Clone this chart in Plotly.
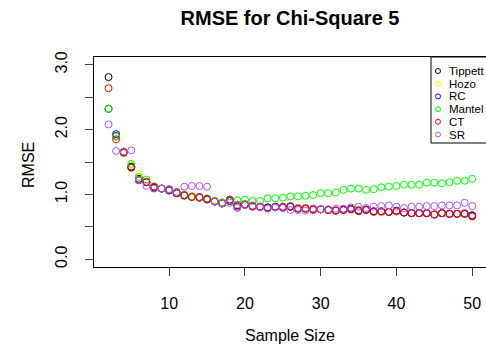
import plotly.graph_objects as go

# Sample sizes and RMSE per estimator
sample_size = list(range(2, 51))

tippett = [2.81, 1.90, 1.65, 1.43, 1.24, 1.19, 1.11, 1.09, 1.07, 1.02,
           0.99, 0.97, 0.95, 0.93, 0.90, 0.87, 0.90, 0.84, 0.84, 0.82,
           0.81, 0.80, 0.81, 0.80, 0.81, 0.79, 0.79, 0.78, 0.77, 0.76,
           0.75, 0.76, 0.78, 0.76, 0.76, 0.74, 0.73, 0.73, 0.74, 0.72,
           0.71, 0.71, 0.71, 0.69, 0.71, 0.70, 0.70, 0.70, 0.68]
hozo = [2.33, 1.89, 1.66, 1.45, 1.31, 1.20, 1.13, 1.09, 1.08, 1.03,
        0.99, 0.97, 0.95, 0.93, 0.90, 0.87, 0.90, 0.84, 0.84, 0.82,
        0.81, 0.80, 0.81, 0.80, 0.81, 0.79, 0.79, 0.78, 0.77, 0.76,
        0.75, 0.76, 0.77, 0.76, 0.76, 0.74, 0.73, 0.73, 0.74, 0.72,
        0.71, 0.71, 0.71, 0.69, 0.71, 0.70, 0.70, 0.70, 0.67]
rc = [2.32, 1.93, 1.66, 1.42, 1.22, 1.19, 1.10, 1.09, 1.06, 1.02,
      0.98, 0.96, 0.96, 0.92, 0.89, 0.86, 0.90, 0.83, 0.84, 0.82,
      0.81, 0.80, 0.81, 0.80, 0.81, 0.78, 0.78, 0.77, 0.77, 0.76,
      0.75, 0.76, 0.77, 0.75, 0.76, 0.74, 0.74, 0.73, 0.75, 0.72,
      0.71, 0.71, 0.71, 0.69, 0.71, 0.70, 0.70, 0.70, 0.67]
mantel = [2.32, 1.89, 1.66, 1.47, 1.27, 1.23, 1.12, 1.09, 1.08, 1.03,
          0.99, 0.96, 0.95, 0.94, 0.90, 0.88, 0.92, 0.91, 0.92, 0.90,
          0.90, 0.94, 0.94, 0.95, 0.97, 0.97, 0.98, 0.99, 1.02, 1.02,
          1.03, 1.07, 1.09, 1.09, 1.07, 1.08, 1.11, 1.12, 1.13, 1.15,
          1.15, 1.15, 1.18, 1.18, 1.17, 1.19, 1.21, 1.21, 1.24]
ct = [2.64, 1.85, 1.64, 1.41, 1.22, 1.19, 1.12, 1.09, 1.07, 1.02,
      0.99, 0.96, 0.95, 0.93, 0.89, 0.86, 0.92, 0.81, 0.85, 0.81,
      0.81, 0.79, 0.80, 0.81, 0.82, 0.78, 0.78, 0.76, 0.77, 0.76,
      0.75, 0.77, 0.77, 0.74, 0.77, 0.73, 0.74, 0.73, 0.74, 0.72,
      0.71, 0.71, 0.71, 0.69, 0.71, 0.70, 0.70, 0.71, 0.66]
sr = [2.08, 1.67, 1.66, 1.68, 1.22, 1.13, 1.09, 1.09, 1.08, 1.04,
      1.12, 1.13, 1.13, 1.12, 0.89, 0.86, 0.87, 0.79, 0.84, 0.83,
      0.80, 0.78, 0.80, 0.79, 0.76, 0.76, 0.75, 0.78, 0.77, 0.77,
      0.78, 0.78, 0.80, 0.81, 0.79, 0.81, 0.82, 0.83, 0.81, 0.79,
      0.81, 0.81, 0.82, 0.82, 0.83, 0.83, 0.83, 0.87, 0.82]

series_names = ["Tippett", "Hozo", "RC", "Mantel", "CT", "SR"]
series_values = [tippett, hozo, rc, mantel, ct, sr]
series_colors = ["#000000", "#FFFF00", "#0000FF", "#00FF00", "#FF0000", "#AA55EE"]

y_tick_vals = [0, 0.5, 1, 1.5, 2, 2.5, 3]
y_tick_text = ["0.0", "", "1.0", "", "2.0", "", "3.0"]
x_tick_vals = [10, 20, 30, 40, 50]

FONT = "Liberation Sans, Arial, sans-serif"
W, H = 486, 360
ML, MR, MT, MB = 94, 0, 57, 93
PW, PH = W - ML - MR, H - MT - MB

fig = go.Figure()
for name, vals, col in zip(series_names, series_values, series_colors):
    fig.add_trace(go.Scatter(
        x=sample_size, y=vals, mode="markers", name=name,
        marker=dict(symbol="circle-open", size=7, color=col, line=dict(width=1)),
        showlegend=False,
    ))


def px_x(p):
    return (p - ML) / PW


def px_y(p):
    return (H - MB - p) / PH


# Legend box in the top-right corner of the plotting region
shapes = [dict(type="rect", xref="paper", yref="paper",
               x0=px_x(431), x1=px_x(520), y0=px_y(143), y1=px_y(57),
               line=dict(color="black", width=1), fillcolor="rgba(0,0,0,0)")]
annotations = []
row_top, row_gap = 71, 12.7
for i, (name, col) in enumerate(zip(series_names, series_colors)):
    cy = row_top + i * row_gap
    shapes.append(dict(type="circle", xref="paper", yref="paper",
                       xsizemode="pixel", ysizemode="pixel",
                       xanchor=px_x(438), yanchor=px_y(cy),
                       x0=-2.5, x1=2.5, y0=-2.5, y1=2.5,
                       line=dict(color=col, width=1)))
    annotations.append(dict(text=name, xref="paper", yref="paper",
                            x=px_x(447), y=px_y(cy), xanchor="left", yanchor="middle",
                            showarrow=False, font=dict(size=11.5, color="black", family=FONT)))

# Axis titles
annotations.append(dict(text="Sample Size", xref="paper", yref="paper",
                        x=px_x(290), y=px_y(335), xanchor="center", yanchor="middle",
                        showarrow=False, font=dict(size=16, color="black", family=FONT)))
annotations.append(dict(text="RMSE", xref="paper", yref="paper",
                        x=px_x(28), y=px_y(165), xanchor="center", yanchor="middle",
                        textangle=-90, showarrow=False,
                        font=dict(size=16, color="black", family=FONT)))

fig.update_layout(
    width=W, height=H,
    margin=dict(l=ML, r=MR, t=MT, b=MB),
    paper_bgcolor="white", plot_bgcolor="white",
    title=dict(text="<b>RMSE for Chi-Square 5</b>", x=290 / W, y=1 - 18 / H,
               xanchor="center", yanchor="middle",
               font=dict(size=20, color="black", family=FONT)),
    font=dict(family=FONT, color="black"),
    shapes=shapes, annotations=annotations,
    xaxis=dict(range=[0.08, 51.82], tickvals=x_tick_vals, ticks="outside", ticklen=8,
               tickcolor="#444", showgrid=False, zeroline=False,
               showline=True, mirror=True, linecolor="black", linewidth=1,
               tickfont=dict(size=16, color="black"), ticklabelstandoff=14),
    yaxis=dict(range=[-0.12, 3.12], tickvals=y_tick_vals, ticktext=y_tick_text,
               ticks="outside", ticklen=8, tickcolor="#444", tickangle=-90,
               showgrid=False, zeroline=False,
               showline=True, mirror=True, linecolor="black", linewidth=1,
               tickfont=dict(size=16, color="black"), ticklabelstandoff=12),
)

fig.write_html("out.html")
